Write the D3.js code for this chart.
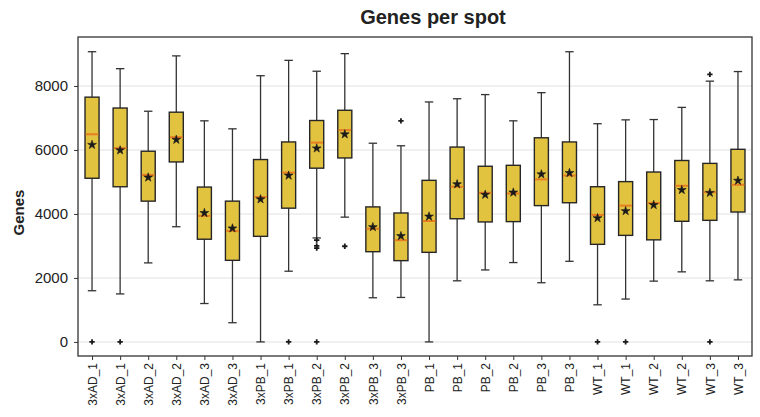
<!DOCTYPE html>
<html>
<head>
<meta charset="utf-8">
<script src="https://cdn.jsdelivr.net/npm/d3@7/dist/d3.min.js"></script>
<style>
  html, body { margin: 0; padding: 0; background: #fff; }
  svg { display: block; font-family: "Liberation Sans", Arial, sans-serif; }
</style>
</head>
<body>
<svg id="chart" width="760" height="417"></svg>
<script>
// Sample labels, one box per spot set
const categories = [
  "3xAD_1", "3xAD_1", "3xAD_2", "3xAD_2", "3xAD_3", "3xAD_3",
  "3xPB_1", "3xPB_1", "3xPB_2", "3xPB_2", "3xPB_3", "3xPB_3",
  "PB_1", "PB_1", "PB_2", "PB_2", "PB_3", "PB_3",
  "WT_1", "WT_1", "WT_2", "WT_2", "WT_3", "WT_3"
];

// Box statistics per sample (genes per spot)
const whiskerLow  = [1600, 1500, 2470, 3600, 1200, 600, 0, 2210, 3250, 3900, 1380, 1390,
                     0, 1910, 2250, 2480, 1850, 2520, 1160, 1340, 1900, 2190, 1910, 1940];
const q1          = [5115, 4850, 4400, 5625, 3210, 2550, 3300, 4180, 5430, 5750, 2820, 2540,
                     2800, 3850, 3750, 3760, 4260, 4350, 3050, 3330, 3190, 3770, 3800, 4060];
const medians     = [6490, 6060, 5220, 6400, 3940, 3470, 4530, 5290, 6230, 6620, 3540, 3180,
                     3780, 4850, 4660, 4640, 5080, 5200, 3970, 4260, 4340, 4880, 4680, 4910];
const q3          = [7650, 7310, 5960, 7180, 4840, 4400, 5700, 6250, 6920, 7240, 4220, 4030,
                     5050, 6090, 5490, 5520, 6380, 6250, 4850, 5010, 5310, 5670, 5580, 6020];
const whiskerHigh = [9070, 8540, 7210, 8940, 6910, 6660, 8320, 8800, 8460, 9010, 6210, 6130,
                     7500, 7600, 7730, 6910, 7790, 9070, 6820, 6940, 6950, 7330, 8150, 8450];
const means       = [6160, 5990, 5140, 6320, 4030, 3550, 4460, 5200, 6050, 6490, 3590, 3310,
                     3920, 4930, 4600, 4670, 5240, 5280, 3870, 4090, 4280, 4750, 4660, 5040];
const outliers    = [[0], [0], [], [], [], [], [], [0], [3180, 3000, 2930, 0], [2990], [], [6910],
                     [], [], [], [], [], [], [0], [0], [], [], [8360, 0], []];

const yTicks = [0, 2000, 4000, 6000, 8000];

const margin = { left: 78, right: 8, top: 37, bottom: 61 };
const W = 760, H = 417;
const plotW = W - margin.left - margin.right;
const plotH = H - margin.top - margin.bottom;

const svg = d3.select("#chart");

const x = d3.scaleLinear()
  .domain([0.5, categories.length + 0.5])
  .range([margin.left, margin.left + plotW]);
const y = d3.scaleLinear()
  .domain([-440, 9530])
  .range([margin.top + plotH, margin.top]);

const boxW = x(1.25) - x(0.75);
const capW = x(1.15) - x(0.85);

// Horizontal grid lines
svg.append("g")
  .selectAll("line")
  .data(yTicks)
  .join("line")
  .attr("x1", margin.left).attr("x2", margin.left + plotW)
  .attr("y1", d => y(d)).attr("y2", d => y(d))
  .attr("stroke", "#ebebeb").attr("stroke-width", 1.5);

// Y axis
const yAxis = svg.append("g")
  .attr("transform", `translate(${margin.left},0)`)
  .call(d3.axisLeft(y).tickValues(yTicks).tickSize(4).tickPadding(6).tickFormat(d3.format("d")));
yAxis.select(".domain").remove();
yAxis.selectAll("line").attr("stroke", "#333").attr("stroke-width", 1);
yAxis.selectAll("text").attr("font-size", 15).attr("fill", "#222")
  .attr("font-family", "Liberation Sans, Arial, sans-serif");

// X axis
const xAxis = svg.append("g")
  .attr("transform", `translate(0,${margin.top + plotH})`)
  .call(d3.axisBottom(x).tickValues(d3.range(1, categories.length + 1))
    .tickSize(4).tickPadding(4).tickFormat(i => categories[i - 1]));
xAxis.select(".domain").remove();
xAxis.selectAll("line").attr("stroke", "#333").attr("stroke-width", 1);
xAxis.selectAll("text")
  .attr("font-size", 12).attr("fill", "#222")
  .attr("font-family", "Liberation Sans, Arial, sans-serif")
  .attr("transform", "rotate(-90)")
  .attr("text-anchor", "end")
  .attr("dy", "0.35em")
  .attr("x", -7)
  .attr("y", 0);

// Boxes
const boxes = svg.append("g")
  .selectAll("g")
  .data(categories.map((c, i) => ({
    pos: i + 1, lo: whiskerLow[i], q1: q1[i], med: medians[i], q3: q3[i],
    hi: whiskerHigh[i], mean: means[i], out: outliers[i]
  })))
  .join("g");

const whiskerColor = "#333";

// whiskers
boxes.append("line")
  .attr("x1", d => x(d.pos)).attr("x2", d => x(d.pos))
  .attr("y1", d => y(d.q3)).attr("y2", d => y(d.hi))
  .attr("stroke", whiskerColor).attr("stroke-width", 1.3);
boxes.append("line")
  .attr("x1", d => x(d.pos)).attr("x2", d => x(d.pos))
  .attr("y1", d => y(d.q1)).attr("y2", d => y(d.lo))
  .attr("stroke", whiskerColor).attr("stroke-width", 1.3);
// caps
boxes.append("line")
  .attr("x1", d => x(d.pos) - capW / 2).attr("x2", d => x(d.pos) + capW / 2)
  .attr("y1", d => y(d.hi)).attr("y2", d => y(d.hi))
  .attr("stroke", whiskerColor).attr("stroke-width", 1.3);
boxes.append("line")
  .attr("x1", d => x(d.pos) - capW / 2).attr("x2", d => x(d.pos) + capW / 2)
  .attr("y1", d => y(d.lo)).attr("y2", d => y(d.lo))
  .attr("stroke", whiskerColor).attr("stroke-width", 1.3);

// box body
boxes.append("rect")
  .attr("x", d => x(d.pos) - boxW / 2)
  .attr("width", boxW)
  .attr("y", d => y(d.q3))
  .attr("height", d => y(d.q1) - y(d.q3))
  .attr("fill", "#e2c340")
  .attr("stroke", "#262626").attr("stroke-width", 1.4);

// median
boxes.append("line")
  .attr("x1", d => x(d.pos) - boxW / 2 + 0.7).attr("x2", d => x(d.pos) + boxW / 2 - 0.7)
  .attr("y1", d => y(d.med)).attr("y2", d => y(d.med))
  .attr("stroke", "#e67e22").attr("stroke-width", 2);

// mean marker
const meanSym = d3.symbol().type(d3.symbolStar).size(24);
boxes.append("path")
  .attr("d", meanSym)
  .attr("transform", d => `translate(${x(d.pos)},${y(d.mean)})`)
  .attr("fill", "#1a1a1a").attr("stroke", "#1a1a1a").attr("stroke-width", 0.6);

// outliers
const outSym = d3.symbol().type(d3.symbolCross).size(16);
boxes.each(function(d) {
  d3.select(this).selectAll("path.out")
    .data(d.out)
    .join("path")
    .attr("class", "out")
    .attr("d", outSym)
    .attr("transform", v => `translate(${x(d.pos)},${y(v)})`)
    .attr("fill", "#1a1a1a");
});

// Frame
svg.append("rect")
  .attr("x", margin.left).attr("y", margin.top)
  .attr("width", plotW).attr("height", plotH)
  .attr("fill", "none").attr("stroke", "#333").attr("stroke-width", 1.3);

// Title
svg.append("text")
  .attr("x", 433).attr("y", 24)
  .attr("text-anchor", "middle")
  .attr("font-size", 20).attr("font-weight", "bold").attr("fill", "#222")
  .text("Genes per spot");

// Y label
svg.append("text")
  .attr("transform", `translate(24,${margin.top + plotH / 2 + 16}) rotate(-90)`)
  .attr("text-anchor", "middle")
  .attr("font-size", 15).attr("font-weight", "bold").attr("fill", "#222")
  .text("Genes");
</script>
</body>
</html>
